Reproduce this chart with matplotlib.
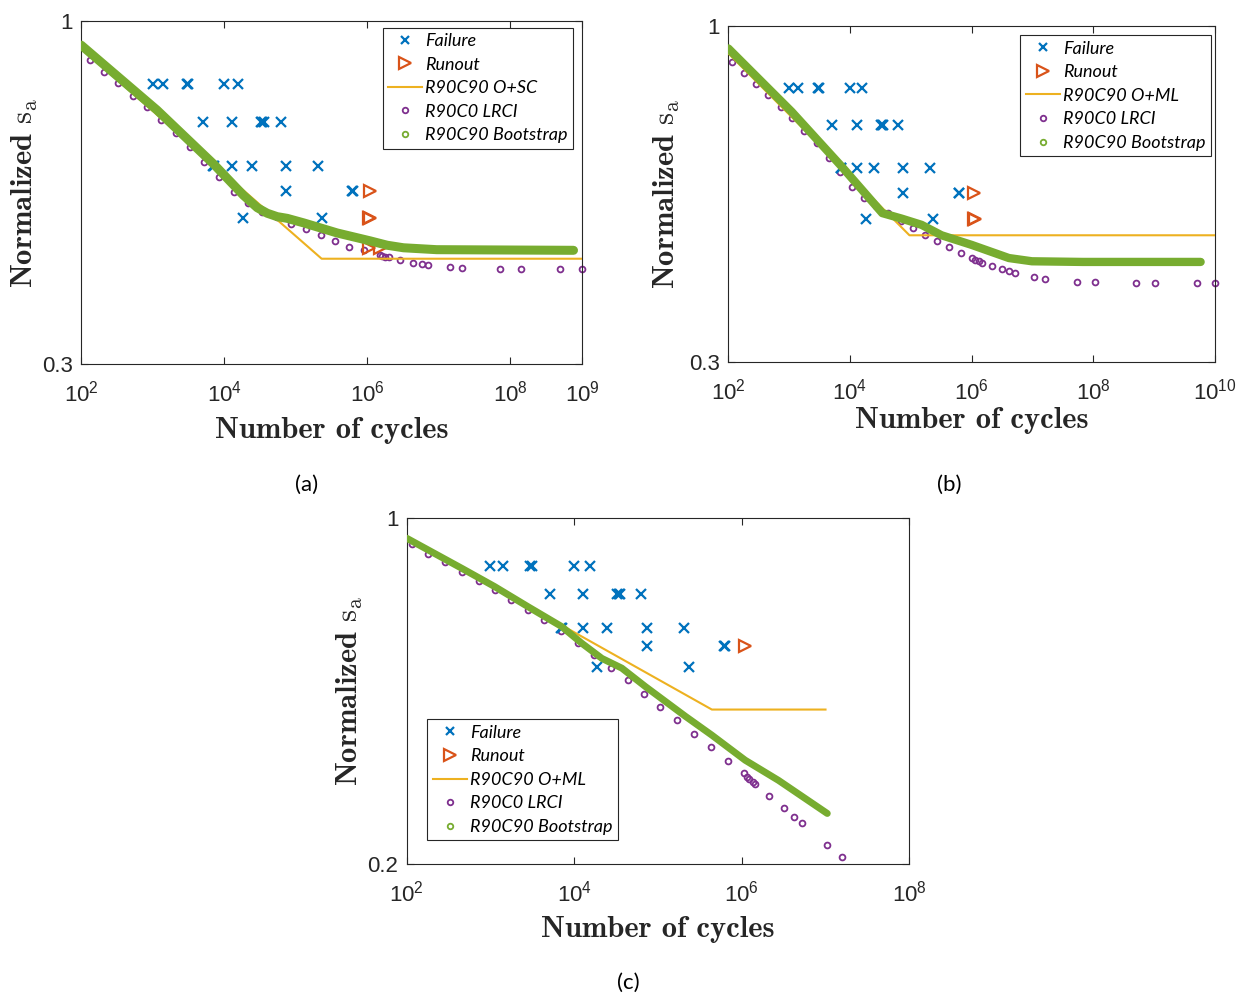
import numpy as np
import matplotlib
matplotlib.use("Agg")
import matplotlib.pyplot as plt
from matplotlib.lines import Line2D

plt.rcParams['font.family'] = ['Liberation Sans', 'DejaVu Sans']
plt.rcParams['mathtext.fontset'] = 'custom'
plt.rcParams['mathtext.rm'] = 'Liberation Sans'

C_FAIL = '#0072BD'
C_RUN = '#D95319'
C_FIT = '#EDB120'
C_LRCI = '#7E2F8E'
C_BOOT = '#77AC30'

# test data (same in all three panels)
fail_n = [1.0e3, 1.4e3, 3.0e3, 3.1e3, 1.0e4, 1.55e4,
          5.1e3, 1.29e4, 3.24e4, 3.4e4, 3.55e4, 6.2e4,
          7.2e3, 7.0e3, 1.29e4, 2.45e4, 7.4e4, 2.05e5,
          7.4e4, 6.2e5, 6.3e5,
          1.86e4, 2.35e5]
fail_s = [0.8, 0.8, 0.8, 0.8, 0.8, 0.8,
          0.7, 0.7, 0.7, 0.7, 0.7, 0.7,
          0.6, 0.6, 0.6, 0.6, 0.6, 0.6,
          0.55, 0.55, 0.55,
          0.5, 0.5]

# panel (a)
run_a_n = [1.1e6, 1.07e6, 1.1e6, 1.07e6, 1.5e6]
run_a_s = [0.55, 0.5, 0.5, 0.45, 0.45]
fit_a_n = [1e2, 2.3e5, 1e9]
fit_a_s = [0.908, 0.434, 0.434]
lrci_a_n = [132, 209, 331, 525, 832, 1318, 2089, 3311, 5248, 8511, 1.35e4, 2.14e4,
            3.39e4, 5.5e4, 8.7e4, 1.41e5, 2.24e5, 3.55e5, 5.6e5, 8.9e5, 1.51e6, 1.62e6,
            1.78e6, 2.0e6, 2.9e6, 4.3e6, 5.8e6, 7.1e6, 1.45e7, 2.1e7, 7.2e7, 1.4e8, 5.0e8, 1.0e9]
lrci_a_s = [0.871, 0.836, 0.803, 0.769, 0.738, 0.706, 0.675, 0.643, 0.610, 0.578, 0.549, 0.528,
            0.512, 0.503, 0.491, 0.481, 0.471, 0.462, 0.453, 0.447, 0.439, 0.438,
            0.437, 0.436, 0.432, 0.428, 0.426, 0.424, 0.422, 0.420, 0.419, 0.419, 0.418, 0.418]
boot_a_n = [1.0e2, 1.15e3, 7.1e3, 1.86e4, 2.9e4, 4.0e4, 5.5e4, 7.6e4, 1.3e5, 3.8e5,
            1.1e6, 1.9e6, 3.2e6, 9.3e6, 7.6e8]
boot_a_s = [0.918, 0.731, 0.605, 0.542, 0.519, 0.509, 0.503, 0.500, 0.492, 0.475,
            0.462, 0.455, 0.451, 0.448, 0.447]

# panel (b)
run_b_n = [1.1e6, 1.1e6, 1.15e6]
run_b_s = [0.55, 0.5, 0.5]
fit_b_n = [1e2, 9.5e4, 1e10]
fit_b_s = [0.906, 0.472, 0.472]
lrci_b_n = [116, 182, 288, 457, 724, 1122, 1778, 2818, 4467, 6918, 1.07e4, 1.7e4,
            2.7e4, 4.27e4, 6.9e4, 1.1e5, 1.7e5, 2.7e5, 4.27e5, 6.8e5, 1.02e6, 1.15e6,
            1.32e6, 1.48e6, 2.14e6, 3.16e6, 4.1e6, 5.2e6, 1.07e7, 1.58e7, 5.4e7, 1.07e8,
            5.1e8, 1.02e9, 5.1e9, 1e10]
lrci_b_s = [0.879, 0.843, 0.811, 0.780, 0.748, 0.718, 0.686, 0.656, 0.623, 0.592, 0.562, 0.539,
            0.525, 0.511, 0.497, 0.484, 0.472, 0.462, 0.453, 0.443, 0.435, 0.432,
            0.430, 0.428, 0.423, 0.418, 0.415, 0.412, 0.406, 0.403, 0.399, 0.399,
            0.398, 0.398, 0.398, 0.398]
boot_b_n = [1e2, 1.1e3, 7.4e3, 3.4e4, 7.1e4, 1.5e5, 3.2e5, 1.0e6, 4.1e6, 9.8e6, 6.6e7, 5.8e9]
boot_b_s = [0.922, 0.735, 0.603, 0.511, 0.501, 0.490, 0.472, 0.456, 0.435, 0.430, 0.429, 0.429]

# panel (c)
run_c_n = [1.1e6]
run_c_s = [0.55]
fit_c_n = [1e2, 4.4e5, 1e7]
fit_c_s = [0.909, 0.410, 0.410]
lrci_c_n = [115, 182, 288, 457, 724, 1122, 1778, 2818, 4365, 6918, 1.1e4, 1.74e4,
            2.75e4, 4.37e4, 6.9e4, 1.07e5, 1.7e5, 2.7e5, 4.27e5, 6.8e5, 1.05e6, 1.15e6,
            1.23e6, 1.35e6, 1.45e6, 2.1e6, 3.16e6, 4.2e6, 5.2e6, 1.05e7, 1.58e7]
lrci_c_s = [0.884, 0.844, 0.813, 0.778, 0.745, 0.715, 0.682, 0.651, 0.622, 0.590, 0.559, 0.528,
            0.498, 0.470, 0.441, 0.415, 0.390, 0.366, 0.344, 0.323, 0.305, 0.300,
            0.297, 0.293, 0.290, 0.275, 0.260, 0.249, 0.242, 0.219, 0.207]
boot_c_n = [1.0e2, 457, 1122, 2818, 7079, 1.23e4, 2.14e4, 3.7e4, 7.1e4, 2.14e5,
            4.4e5, 1.1e6, 2.75e6, 1.05e7]
boot_c_s = [0.909, 0.790, 0.726, 0.661, 0.603, 0.558, 0.520, 0.497, 0.456, 0.397,
            0.364, 0.324, 0.295, 0.253]


def panel(ax, run_n, run_s, fit_n, fit_s, lrci_n, lrci_s, boot_n, boot_s, fit_label,
          xmax, xticks, ymin, boot_lw, leg_xy, ylab_x, xlab_y):
    ax.plot(fail_n, fail_s, 'x', color=C_FAIL, ms=6.5, mew=1.6, zorder=3)
    ax.plot(run_n, run_s, '>', color=C_RUN, mfc='none', ms=8.5, mew=1.6, zorder=3)
    ax.plot(lrci_n, lrci_s, 'o', color=C_LRCI, mfc='none', ms=4.2, mew=1.3, zorder=2,
            clip_on=False)
    ax.plot(fit_n, fit_s, '-', color=C_FIT, lw=1.5, zorder=4)
    ax.plot(boot_n, boot_s, '-', color=C_BOOT, lw=boot_lw, solid_capstyle='round',
            solid_joinstyle='round', zorder=5)

    ax.set_xscale('log')
    ax.set_yscale('log')
    ax.set_xlim(1e2, xmax)
    ax.set_ylim(ymin, 1)
    ax.set_xticks(xticks)
    ax.minorticks_off()
    ax.set_yticks([ymin, 1])
    ax.set_yticklabels([str(ymin), '1'])
    ax.tick_params(direction='in', top=True, right=True, length=5, width=0.8,
                   labelsize=16, colors='#262626')
    ax.tick_params(axis='x', pad=12)
    ax.tick_params(axis='y', pad=6)
    for s in ax.spines.values():
        s.set_color('#262626')
        s.set_linewidth(0.8)

    ax.set_xlabel('Number of cycles', fontfamily='cmb10', fontsize=22, color='#262626')
    ax.set_ylabel(r'Normalized $\mathrm{s_a}$', fontfamily='cmb10', fontsize=22,
                  math_fontfamily='cm', color='#262626')
    ax.xaxis.set_label_coords(0.5, xlab_y)
    ax.yaxis.set_label_coords(ylab_x, 0.5)

    handles = [
        Line2D([], [], ls='none', marker='x', color=C_FAIL, ms=6, mew=1.6),
        Line2D([], [], ls='none', marker='>', color=C_RUN, mfc='none', ms=9, mew=1.6),
        Line2D([], [], ls='-', color=C_FIT, lw=1.5),
        Line2D([], [], ls='none', marker='o', color=C_LRCI, mfc='none', ms=4, mew=1.3),
        Line2D([], [], ls='none', marker='o', color=C_BOOT, mfc='none', ms=4, mew=1.3),
    ]
    labels = ['Failure', 'Runout', fit_label, 'R90C0 LRCI', 'R90C90 Bootstrap']
    leg = ax.legend(handles, labels, loc='upper left', bbox_to_anchor=leg_xy,
                    borderaxespad=0, fancybox=False, framealpha=1, edgecolor='#262626',
                    prop={'family': 'Lato', 'style': 'italic', 'size': 13},
                    labelspacing=0.42, handlelength=1.9, handletextpad=0.15,
                    borderpad=0.3)
    leg.get_frame().set_linewidth(0.8)
    leg.set_zorder(10)


fig = plt.figure(figsize=(12.49, 9.99), dpi=100)
ax_a = fig.add_axes([0.0649, 0.6356, 0.4011, 0.3437])
ax_b = fig.add_axes([0.5831, 0.6379, 0.3897, 0.3363])
ax_c = fig.add_axes([0.3256, 0.1351, 0.4024, 0.3467])

panel(ax_a, run_a_n, run_a_s, fit_a_n, fit_a_s, lrci_a_n, lrci_a_s, boot_a_n, boot_a_s,
      'R90C90 O+SC', 1e9, [1e2, 1e4, 1e6, 1e8, 1e9], 0.3, 6.5, (0.602, 0.98), -0.082, -0.155)
panel(ax_b, run_b_n, run_b_s, fit_b_n, fit_b_s, lrci_b_n, lrci_b_s, boot_b_n, boot_b_s,
      'R90C90 O+ML', 1e10, [1e2, 1e4, 1e6, 1e8, 1e10], 0.3, 6, (0.600, 0.972), -0.095, -0.135)
panel(ax_c, run_c_n, run_c_s, fit_c_n, fit_c_s, lrci_c_n, lrci_c_s, boot_c_n, boot_c_s,
      'R90C90 O+ML', 1e8, [1e2, 1e4, 1e6, 1e8], 0.2, 5, (0.041, 0.418), -0.083, -0.15)

fig.text(307 / 1249, 1 - 485 / 999, '(a)', fontfamily='Lato', fontsize=16, ha='center', va='center')
fig.text(949 / 1249, 1 - 485 / 999, '(b)', fontfamily='Lato', fontsize=16, ha='center', va='center')
fig.text(628 / 1249, 1 - 983 / 999, '(c)', fontfamily='Lato', fontsize=16, ha='center', va='center')

fig.savefig('out.png', dpi=100)
